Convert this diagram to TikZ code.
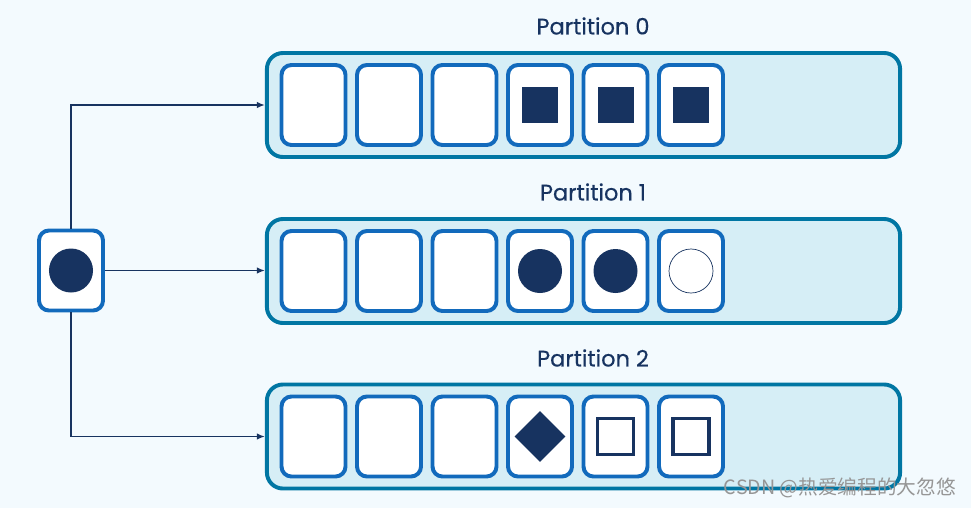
\documentclass[tikz,border=0pt]{standalone}
\usepackage{fontspec}
\setmainfont{Poppins}
\newfontfamily\titlefont[FakeBold=0.4]{Poppins}
\newfontfamily\cjkfont{Noto Sans CJK SC}
\usepackage{tikz}
\usetikzlibrary{arrows.meta,shapes.geometric}
\definecolor{bgblue}{RGB}{243,250,254}
\definecolor{partfill}{RGB}{214,238,246}
\definecolor{partline}{RGB}{0,118,163}
\definecolor{cellline}{RGB}{18,106,188}
\definecolor{navy}{RGB}{23,51,96}
\definecolor{markgray}{RGB}{150,150,150}

\begin{document}
\begin{tikzpicture}[
  x=0.025cm, y=-0.025cm,
  part/.style={draw=partline, fill=partfill, line width=2.8pt,
               rounded corners=0.4cm, minimum width=15.825cm,
               minimum height=2.6cm, inner sep=0pt},
  cell/.style={draw=cellline, fill=white, line width=2.8pt,
               rounded corners=0.25cm, minimum width=1.6cm,
               minimum height=2.0cm, inner sep=0pt},
  title/.style={font=\titlefont\fontsize{16}{18}\selectfont, text=navy},
  conn/.style={-{Latex[length=2mm,width=1.6mm]}, line width=1.1pt, draw=navy},
  dot/.style={circle, fill=navy, minimum size=1.1cm, inner sep=0pt},
  ring/.style={circle, draw=navy, fill=white, line width=0.5pt,
               minimum size=1.1cm, inner sep=0pt},
  block/.style={fill=navy, minimum size=0.9cm, inner sep=0pt},
  frame/.style={draw=navy, line width=2.8pt, fill=white,
                minimum size=0.9cm, inner sep=0pt},
  gem/.style={diamond, fill=navy, minimum size=1.275cm, inner sep=0pt},
  wmark/.style={font=\cjkfont\fontsize{14}{16}\selectfont, text=markgray}
]
  \fill[bgblue] (0,0) rectangle (971,508);
  \useasboundingbox (0,0) rectangle (971,508);

  % partitions
  \node[part] (part0) at (583.5,105) {};
  \node[part] (part1) at (583.5,271) {};
  \node[part] (part2) at (583.5,436.5) {};
  \node[title] (t0) at (593,26) {Partition 0};
  \node[title] (t1) at (593,192) {Partition 1};
  \node[title] (t2) at (593,358) {Partition 2};

  \foreach \p/\y in {0/105, 1/271, 2/436.5}
    \foreach \i in {0,...,5}
      \node[cell] (c\p-\i) at (313.5+75.5*\i,\y) {};

  % records
  \node[block] (sq3) at (c0-3) {};
  \node[block] (sq4) at (c0-4) {};
  \node[block] (sq5) at (c0-5) {};
  \node[dot] (ball3) at (c1-3) {};
  \node[dot] (ball4) at (c1-4) {};
  \node[ring] (ball5) at (c1-5) {};
  \node[gem] (gem3) at (c2-3) {};
  \node[frame] (box4) at (c2-4) {};
  \node[frame] (box5) at (c2-5) {};

  % producer
  \node[cell] (src) at (71,270.5) {};
  \node[dot] (srcball) at (src) {};
  \draw[conn] (src.north) |- (part0.west);
  \draw[conn] (src.east) -- (src.east -| part1.west);
  \draw[conn] (src.south) |- (part2.west);

  \node[wmark] (wm) at (840,488) {CSDN @热爱编程的大忽悠};
\end{tikzpicture}
\end{document}
